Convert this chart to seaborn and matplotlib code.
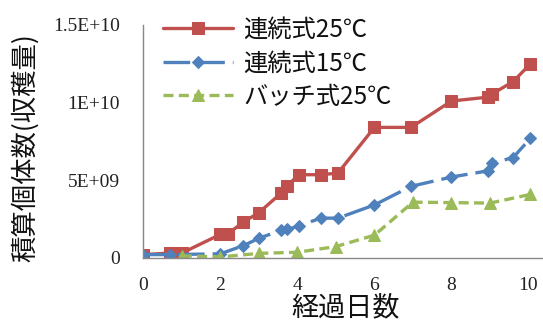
import matplotlib
matplotlib.use("Agg")
import matplotlib.pyplot as plt
import seaborn as sns
import numpy as np
import pandas as pd

# ---- data (values in units of 1e9) ----
red_label = "連続式25℃"
red_x = [0, 0.7, 1.0, 2.0, 2.2, 2.6, 3.0, 3.57, 3.73, 4.05, 4.6, 5.05, 6.0, 6.95, 8.0, 8.95, 9.05, 9.6, 10.05]
red_y = [0.2, 0.3, 0.3, 1.5, 1.55, 2.3, 2.9, 4.15, 4.65, 5.35, 5.35, 5.45, 8.4, 8.4, 10.1, 10.35, 10.55, 11.35, 12.5]

blue_label = "連続式15℃"
blue_x = [0, 0.7, 2.0, 2.6, 3.0, 3.57, 3.73, 4.05, 4.6, 5.05, 6.0, 6.95, 8.0, 8.95, 9.05, 9.6, 10.05]
blue_y = [0.2, 0.2, 0.25, 0.78, 1.25, 1.76, 1.82, 2.05, 2.55, 2.55, 3.4, 4.6, 5.2, 5.6, 6.1, 6.45, 7.7]

green_label = "バッチ式25℃"
green_x = [1.0, 2.0, 3.0, 4.0, 5.0, 6.0, 7.0, 8.0, 9.0, 10.05]
green_y = [0.12, 0.05, 0.28, 0.35, 0.72, 1.45, 3.58, 3.55, 3.52, 4.08]

x_ticks = [0, 2, 4, 6, 8, 10]
y_ticks = [0, 5e9, 1e10, 1.5e10]
y_tick_labels = ["0", "5E+09", "1E+10", "1.5E+10"]
x_label = "経過日数"
y_label = "積算個体数(収穫量)"

sns.set_theme(style="white")
plt.rcParams['font.family'] = ['Noto Sans CJK JP', 'DejaVu Sans']

fig = plt.figure(figsize=(5.43, 3.24), dpi=100)
W, H = 543, 324
ax_left, ax_right, ax_bottom, ax_top = 143.3, 542, 257.7, 25
ax = fig.add_axes([ax_left / W, 1 - ax_bottom / H, (ax_right - ax_left) / W, (ax_bottom - ax_top) / H])

red_c, blue_c, green_c = "#C0504D", "#4F81BD", "#9BBB59"

sns.lineplot(x=np.array(red_x), y=np.array(red_y) * 1e9, ax=ax, color=red_c, lw=2.4,
             marker="s", markersize=8, markeredgecolor=red_c, label=red_label,
             estimator=None, sort=False)
sns.lineplot(x=np.array(blue_x), y=np.array(blue_y) * 1e9, ax=ax, color=blue_c, lw=2.4,
             marker="D", markersize=6.5, markeredgecolor=blue_c, label=blue_label,
             linestyle=(0, (8, 2.4)), estimator=None, sort=False)
sns.lineplot(x=np.array(green_x), y=np.array(green_y) * 1e9, ax=ax, color=green_c, lw=2.4,
             marker="^", markersize=8.5, markeredgecolor=green_c, label=green_label,
             linestyle=(0, (3, 1.6)), estimator=None, sort=False)

ax.set_xlim(0, 10.35)
ax.set_ylim(0, 1.5e10)
ax.set_xticks(x_ticks)
ax.set_xticklabels([str(t) for t in x_ticks], family="Liberation Serif", fontsize=14)
ax.set_yticks(y_ticks)
ax.set_yticklabels(y_tick_labels, family="Liberation Serif", fontsize=14)

axis_c = "#888888"
for s in ["top", "right"]:
    ax.spines[s].set_visible(False)
for s in ["left", "bottom"]:
    ax.spines[s].set_color(axis_c)
    ax.spines[s].set_linewidth(1.0)
ax.tick_params(axis="x", direction="in", length=5, width=1, color=axis_c, pad=14, labelcolor="#222222")
ax.tick_params(axis="y", direction="out", length=4, width=1, color=axis_c, pad=13, labelcolor="#222222")
ax.grid(False)

ax.set_xlabel(x_label, fontsize=19.5, color="#111111")
ax.set_ylabel(y_label, fontsize=19, color="#111111")
ax.xaxis.set_label_coords(0.508, -0.158)
ax.yaxis.set_label_coords(-0.262, 0.474)

leg = ax.legend(loc="upper left", bbox_to_anchor=(163 / W, 1 - 17 / H),
                bbox_transform=fig.transFigure, frameon=False, fontsize=17.5,
                handlelength=2.9, handletextpad=0.4, labelspacing=0.3,
                borderpad=0, borderaxespad=0)
for t in leg.get_texts():
    t.set_color("#111111")

fig.savefig("out.png", dpi=100)
